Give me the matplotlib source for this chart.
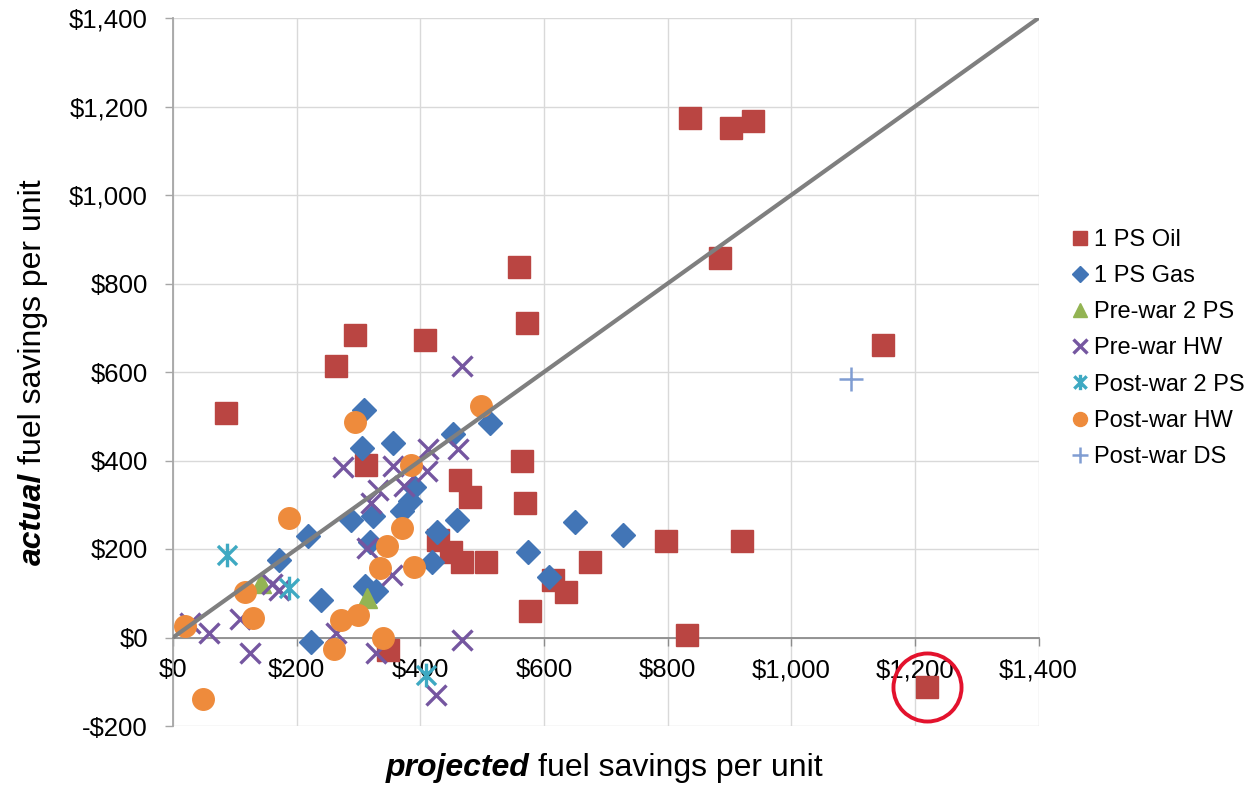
import matplotlib
matplotlib.use("Agg")
import matplotlib.pyplot as plt
from matplotlib.path import Path

# ---------------- data ----------------
oil_x = [86, 263, 294, 408, 560, 572, 836, 903, 938, 884, 1149, 1219, 312, 464, 480, 565, 570,
         429, 449, 467, 507, 578, 615, 635, 674, 798, 920, 831, 348]
oil_y = [507, 614, 683, 672, 837, 711, 1174, 1151, 1168, 857, 660, -112, 390, 355, 318, 398, 303,
         220, 194, 171, 171, 60, 130, 102, 170, 217, 219, 5, -28]

gas_x = [309, 306, 356, 453, 512, 389, 384, 371, 323, 288, 219, 172, 240, 224, 459, 427, 318,
         419, 310, 328, 650, 728, 574, 608]
gas_y = [513, 428, 440, 460, 485, 341, 309, 286, 275, 266, 230, 175, 85, -10, 266, 239, 215,
         171, 117, 104, 260, 232, 194, 137]

prewar2ps_x = [143, 314]
prewar2ps_y = [124, 90]

prewarhw_x = [28, 59, 108, 124, 160, 172, 275, 263, 329, 426, 467, 468, 413, 461, 356, 411,
              331, 373, 320, 313, 355]
prewarhw_y = [32, 10, 41, -34, 120, 108, 385, 11, -35, -130, -6, 614, 426, 426, 388, 377,
              334, 343, 303, 203, 141]

postwar2ps_x = [87, 188, 410]
postwar2ps_y = [186, 111, -85]

postwarhw_x = [294, 498, 187, 385, 371, 346, 389, 334, 117, 129, 20, 48, 272, 299, 261, 340]
postwarhw_y = [488, 524, 269, 390, 247, 207, 160, 156, 103, 45, 25, -139, 40, 51, -27, -2]

postwards_x = [1096]
postwards_y = [585]

series_names = ["1 PS Oil", "1 PS Gas", "Pre-war 2 PS", "Pre-war HW",
                "Post-war 2 PS", "Post-war HW", "Post-war DS"]

parity_line = [0, 1400]          # y = x reference line
highlight_index = 11             # circled 1 PS Oil point

x_ticks = [0, 200, 400, 600, 800, 1000, 1200, 1400]
x_tick_labels = ["$0", "$200", "$400", "$600", "$800", "$1,000", "$1,200", "$1,400"]
y_ticks = [-200, 0, 200, 400, 600, 800, 1000, 1200, 1400]
y_tick_labels = ["-$200", "$0", "$200", "$400", "$600", "$800", "$1,000", "$1,200", "$1,400"]

# ---------------- style ----------------
plt.rcParams['font.family'] = ['Liberation Sans', 'DejaVu Sans']

W, H = 1258, 785
fig = plt.figure(figsize=(W / 100, H / 100), dpi=100)
ax = fig.add_axes([173 / W, 1 - 726 / H, (1038.6 - 173) / W, (726 - 18) / H])

# asterisk marker (X with vertical bar)
star_path = Path([(-0.5, -0.5), (0.5, 0.5), (-0.5, 0.5), (0.5, -0.5), (0, -0.62), (0, 0.62)],
                 [Path.MOVETO, Path.LINETO, Path.MOVETO, Path.LINETO, Path.MOVETO, Path.LINETO])

c_oil = '#BA4542'
c_gas = '#4275B6'
c_green = '#93B453'
c_purple = '#7556A0'
c_teal = '#3EA9C2'
c_orange = '#EE8B3C'
c_plus = '#809DD2'

kw = dict(linestyle='none', clip_on=False)
ax.plot(oil_x, oil_y, marker='s', ms=16, color=c_oil, mec=c_oil, label=series_names[0], zorder=3, **kw)
ax.plot(gas_x, gas_y, marker='D', ms=11.8, color=c_gas, mec=c_gas, label=series_names[1], zorder=3, **kw)
ax.plot(prewar2ps_x, prewar2ps_y, marker='^', ms=15, color=c_green, mec=c_green, label=series_names[2], zorder=3, **kw)
ax.plot(prewarhw_x, prewarhw_y, marker='x', ms=15, mew=2.4, color=c_purple, label=series_names[3], zorder=3, **kw)
ax.plot(postwar2ps_x, postwar2ps_y, marker=star_path, ms=17, mew=2.4, color=c_teal, mfc='none',
        label=series_names[4], zorder=3, **kw)
ax.plot(postwarhw_x, postwarhw_y, marker='o', ms=15.5, color=c_orange, mec=c_orange, label=series_names[5], zorder=3, **kw)
ax.plot(postwards_x, postwards_y, marker='+', ms=17, mew=1.8, color=c_plus, label=series_names[6], zorder=3, **kw)

ax.plot(parity_line, parity_line, color='#7F7F7F', lw=3.0, zorder=4, solid_capstyle='butt')

# red highlight circle around the outlier
ax.plot([oil_x[highlight_index]], [oil_y[highlight_index]], marker='o', ms=49, mfc='none',
        mec='#E3122D', mew=2.8, linestyle='none', clip_on=False, zorder=5)

ax.set_xlim(0, 1400)
ax.set_ylim(-200, 1400)
ax.set_xticks(x_ticks)
ax.set_xticklabels(x_tick_labels)
ax.set_yticks(y_ticks)
ax.set_yticklabels(y_tick_labels)

ax.grid(True, color='#D9D9D9', lw=1.0, zorder=0)
ax.set_axisbelow(True)
for s in ['top', 'right']:
    ax.spines[s].set_visible(False)
ax.spines['bottom'].set_position(('data', 0))
ax.spines['bottom'].set_color('#8C8C8C')
ax.spines['bottom'].set_linewidth(1.3)
ax.spines['left'].set_color('#A6A6A6')
ax.spines['left'].set_linewidth(1.3)
ax.tick_params(axis='x', direction='out', length=6, width=1.0, color='#8C8C8C', pad=9,
               labelsize=18.5, labelcolor='black')
ax.tick_params(axis='y', direction='out', length=6, width=1.0, color='#A6A6A6', pad=12,
               labelsize=18.5, labelcolor='black')

# legend
leg = fig.legend(loc='upper left', bbox_to_anchor=(1072 / W, 1 - 229 / H), frameon=False,
                 fontsize=17, handlelength=0.7, handletextpad=0.25, labelspacing=0.6,
                 borderaxespad=0, borderpad=0, markerscale=0.65)

# axis labels with mixed styles
LFS = 23
fig.canvas.draw()
r = fig.canvas.get_renderer()

xa = fig.text(0, 0, 'projected', fontsize=LFS, fontweight='bold', fontstyle='italic',
              ha='left', va='center')
xb = fig.text(0, 0, 'fuel savings per unit', fontsize=LFS, ha='left', va='center')
w1 = xa.get_window_extent(r).width
w2 = xb.get_window_extent(r).width
gap = LFS * 1.389 * 0.28
left = 604 - (w1 + gap + w2) / 2
yc = 1 - 768 / H
xa.set_position((left / W, yc))
xb.set_position(((left + w1 + gap) / W, yc))

ya = fig.text(0, 0, 'actual', fontsize=LFS, fontweight='bold', fontstyle='italic',
              rotation=90, ha='center', va='bottom')
yb = fig.text(0, 0, 'fuel savings per unit', fontsize=LFS, rotation=90, ha='center', va='bottom')
h1 = ya.get_window_extent(r).height
h2 = yb.get_window_extent(r).height
bottom = (H - 372) - (h1 + gap + h2) / 2
xc = 33 / W
ya.set_position((xc, bottom / H))
yb.set_position((xc, (bottom + h1 + gap) / H))

fig.savefig('out.png', dpi=100)
